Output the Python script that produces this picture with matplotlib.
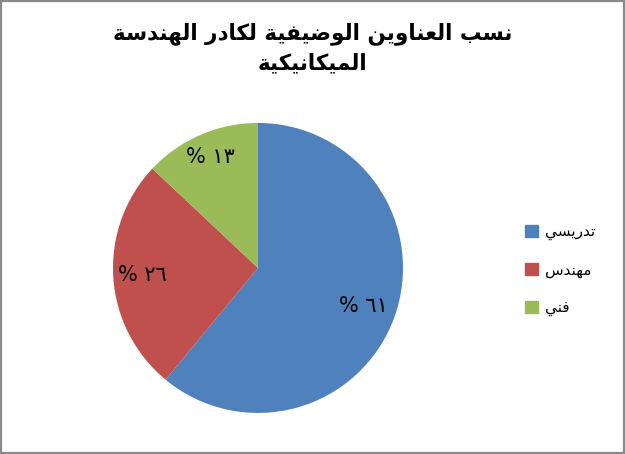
import matplotlib
matplotlib.use("Agg")
import matplotlib.pyplot as plt
import matplotlib.patches as mpatches
import numpy as np

# data
title_lines = ["نسب العناوين الوضيفية لكادر الهندسة", "الميكانيكية"]
categories = ["تدريسي", "مهندس", "فني"]
values = [61, 26, 13]
colors = ["#4F81BD", "#C0504D", "#9BBB59"]

# arabic letter -> (isolated presentation form, dual joining)
FORMS = {
    'ا': (0xFE8D, False), 'ب': (0xFE8F, True), 'ة': (0xFE93, False),
    'ت': (0xFE95, True), 'د': (0xFEA9, False), 'ر': (0xFEAD, False),
    'س': (0xFEB1, True), 'ض': (0xFEBD, True), 'ظ': (0xFEC5, True),
    'ع': (0xFEC9, True), 'ف': (0xFED1, True), 'ك': (0xFED9, True),
    'ل': (0xFEDD, True), 'م': (0xFEE1, True), 'ن': (0xFEE5, True),
    'ه': (0xFEE9, True), 'و': (0xFEED, False), 'ي': (0xFEF1, True),
}


def shape(text):
    # join letters into contextual forms, then put in visual (LTR) order
    out = []
    for i, ch in enumerate(text):
        if ch not in FORMS:
            out.append(ch)
            continue
        base, dual = FORMS[ch]
        prev = text[i - 1] if i > 0 else ''
        nxt = text[i + 1] if i + 1 < len(text) else ''
        join_prev = prev in FORMS and FORMS[prev][1]
        join_next = dual and nxt in FORMS
        if join_prev and join_next:
            out.append(chr(base + 3))
        elif join_prev:
            out.append(chr(base + 1))
        elif join_next:
            out.append(chr(base + 2))
        else:
            out.append(chr(base))
    return ''.join(out)[::-1]


def arabic_digits(n):
    return str(n).translate(str.maketrans("0123456789", "٠١٢٣٤٥٦٧٨٩"))


fig = plt.figure(figsize=(6.25, 4.54), dpi=100)
fig.patch.set_facecolor("white")
fig.add_artist(mpatches.Rectangle((0.002, 0.003), 0.996, 0.994, transform=fig.transFigure,
                                  fill=False, edgecolor="#8a8a8a", lw=1.6))

ax = fig.add_axes([0.1808, 0.0903, 0.464, 0.639])
wedges, _ = ax.pie(values, colors=colors, startangle=90, counterclock=False,
                   wedgeprops=dict(linewidth=0))
ax.set_xlim(-1, 1)
ax.set_ylim(-1, 1)
ax.set_aspect("equal")
ax.axis("off")

label_dist = [0.77, 0.8, 0.83]
for w, v, d in zip(wedges, values, label_dist):
    ang = np.deg2rad((w.theta1 + w.theta2) / 2)
    ax.text(d * np.cos(ang), d * np.sin(ang), "% " + arabic_digits(v),
            ha="center", va="center", fontsize=15, family="DejaVu Sans")

fig.text(0.5, 0.927, shape(title_lines[0]), ha="center", va="center",
         fontsize=15.5, fontweight="bold", family="DejaVu Sans")
fig.text(0.5, 0.860, shape(title_lines[1]), ha="center", va="center",
         fontsize=15.5, fontweight="bold", family="DejaVu Sans")

handles = [mpatches.Patch(color=c) for c in colors]
leg = fig.legend(handles, [shape(c) for c in categories], loc="center left",
                 bbox_to_anchor=(0.818, 0.405), frameon=False,
                 handlelength=0.85, handleheight=0.85, handletextpad=0.45,
                 labelspacing=1.45, prop=dict(family="DejaVu Sans", size=11))

fig.savefig("out.png", dpi=100, facecolor="white")
